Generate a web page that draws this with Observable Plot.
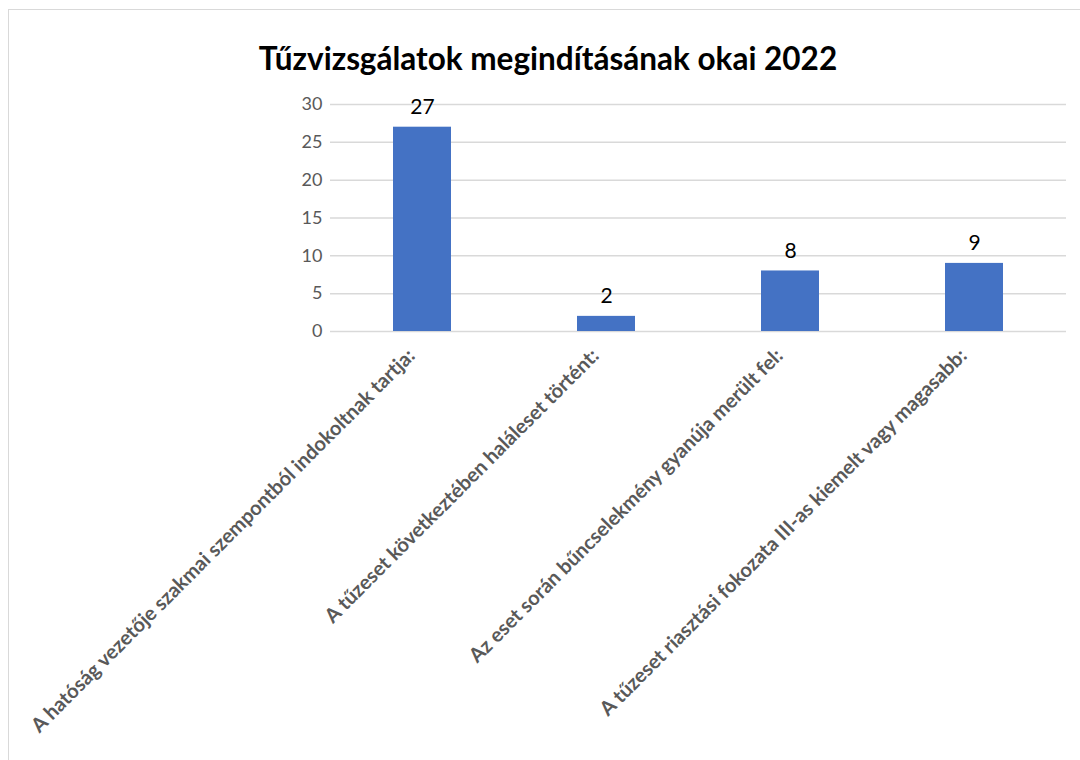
<!DOCTYPE html>
<html>
<head>
<meta charset="utf-8">
<script src="https://cdn.jsdelivr.net/npm/d3@7"></script>
<script src="https://cdn.jsdelivr.net/npm/@observablehq/plot@0.6"></script>
<style>
  html, body { margin: 0; padding: 0; background: #fff; overflow: hidden; width: 1080px; height: 760px; }
  #frame { position: absolute; left: 8px; top: 9px; width: 1200px; height: 900px; border: 1.5px solid #d9d9d9; box-sizing: border-box; }
  #title { position: absolute; left: 0; top: 38px; width: 1096px; text-align: center; font-family: Lato, "Open Sans", sans-serif; font-weight: 700; font-size: 31.5px; line-height: 40px; color: #000; }
  #chart { position: absolute; left: 0; top: 80px; }
</style>
</head>
<body>
<div id="frame"></div>
<div id="title">Tűzvizsgálatok megindításának okai 2022</div>
<div id="chart"></div>
<script>
const categories = [
  "A hatóság vezetője szakmai szempontból indokoltnak tartja:",
  "A tűzeset következtében haláleset történt:",
  "Az eset során bűncselekmény gyanúja merült fel:",
  "A tűzeset riasztási fokozata III-as kiemelt vagy magasabb:"
];
const values = [27, 2, 8, 9];
const yTicks = [0, 5, 10, 15, 20, 25, 30];

const data = categories.map((c, i) => ({category: c, value: values[i]}));

const chart = Plot.plot({
  width: 1080,
  height: 680,
  marginTop: 24,
  marginLeft: 330,
  marginRight: 14,
  marginBottom: 429,
  style: {fontFamily: "Lato, 'Open Sans', sans-serif", background: "transparent"},
  x: {domain: categories, paddingInner: 0.685, paddingOuter: 0.3425, label: null},
  y: {domain: [0, 30], label: null},
  marks: [
    Plot.ruleY(yTicks, {stroke: "#d9d9d9", strokeWidth: 1.5}),
    Plot.barY(data, {x: "category", y: "value", fill: "#4472c4"}),
    Plot.text(data, {x: "category", y: "value", text: d => String(d.value), dy: -20, fontSize: 21, fill: "#000"}),
    Plot.axisY({ticks: yTicks, tickSize: 0, tickPadding: 8, fontSize: 18, color: "#595959", label: null}),
    Plot.axisX({tickSize: 0, tickPadding: 12, tickRotate: -45, dx: -11, dy: 9, fontSize: 20.1, fontWeight: 700, color: "#595959", label: null})
  ]
});
document.getElementById("chart").appendChild(chart);
</script>
</body>
</html>
